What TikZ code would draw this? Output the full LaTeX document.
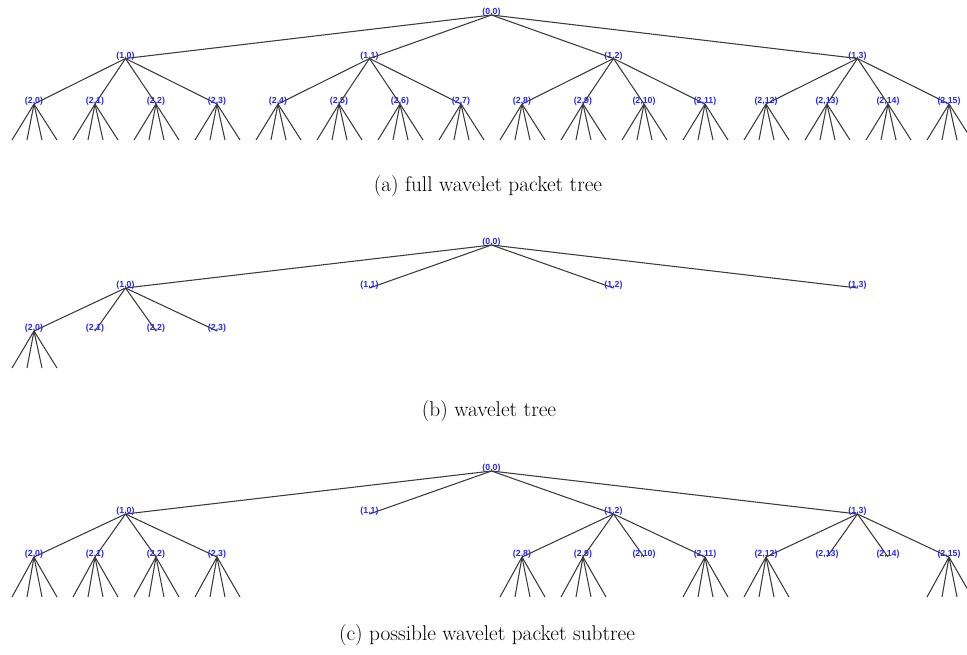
\documentclass[tikz,border=0pt]{standalone}
\usepackage{fontspec}
\newfontfamily\labfont{Liberation Sans}
\definecolor{labblue}{RGB}{40,40,245}
\definecolor{edgegray}{RGB}{60,60,60}
\tikzset{
  lbl/.style={font=\labfont\bfseries\fontsize{6.6}{7}\selectfont, text=labblue, inner sep=0pt},
  conn/.style={draw=edgegray, line width=0.8pt},
  captext/.style={font=\fontsize{16}{19}\selectfont, inner sep=0pt}
}
% #1 prefix, #2 root y, #3 L1 y, #4 L2 y, #5 leaf y, #6 L2 list, #7 leafed L2 list
\newcommand\wptree[7]{%
  \coordinate (#1-0) at (491.5,#2);
  \foreach \j in {0,...,3}{%
    \pgfmathsetmacro\xx{34+61*(4*\j+1.5)}
    \coordinate (#1-1-\j) at (\xx,#3);
    \draw[conn] (#1-0) -- (#1-1-\j);
  }
  \foreach \k in {#6}{%
    \pgfmathtruncatemacro\jj{floor(\k/4)}
    \pgfmathsetmacro\xx{34+61*\k}
    \coordinate (#1-2-\k) at (\xx,#4);
    \draw[conn] (#1-1-\jj) -- (#1-2-\k);
  }
  \foreach \k in {#7}{%
    \pgfmathsetmacro\xx{34+61*\k}
    \foreach \d [count=\i] in {-22,-7,8,23}{%
      \coordinate (#1-2-\k-l\i) at (\xx+\d,#5);
      \draw[conn] (#1-2-\k) -- (#1-2-\k-l\i);
    }
  }
  \node[lbl] (#1-0-t) at (491.5,#2-3) {(0,0)};
  \foreach \j in {0,...,3}{%
    \pgfmathsetmacro\xx{34+61*(4*\j+1.5)}
    \node[lbl] (#1-1-\j-t) at (\xx,#3-2.5) {(1,\j)};
  }
  \foreach \k in {#6}{%
    \pgfmathsetmacro\xx{34+61*\k}
    \node[lbl] (#1-2-\k-t) at (\xx,#4-3) {(2,\k)};
  }
}
\begin{document}
\begin{tikzpicture}[x=0.75pt,y=-0.75pt]
\useasboundingbox (0,0) rectangle (967,654);
% (a)
\wptree{a}{15}{58.5}{104}{140}{0,...,15}{0,...,15}
\node[captext] (capa) at (488,186) {(a) full wavelet packet tree};
% (b)
\wptree{b}{245}{288}{331}{368}{0,1,2,3}{0}
\node[captext] (capb) at (489,411) {(b) wavelet tree};
% (c)
\wptree{c}{471}{514}{557}{597}{0,1,2,3,8,9,10,11,12,13,14,15}{0,1,2,3,8,9,11,12,15}
\node[captext] (capc) at (487,635) {(c) possible wavelet packet subtree};
\end{tikzpicture}
\end{document}
